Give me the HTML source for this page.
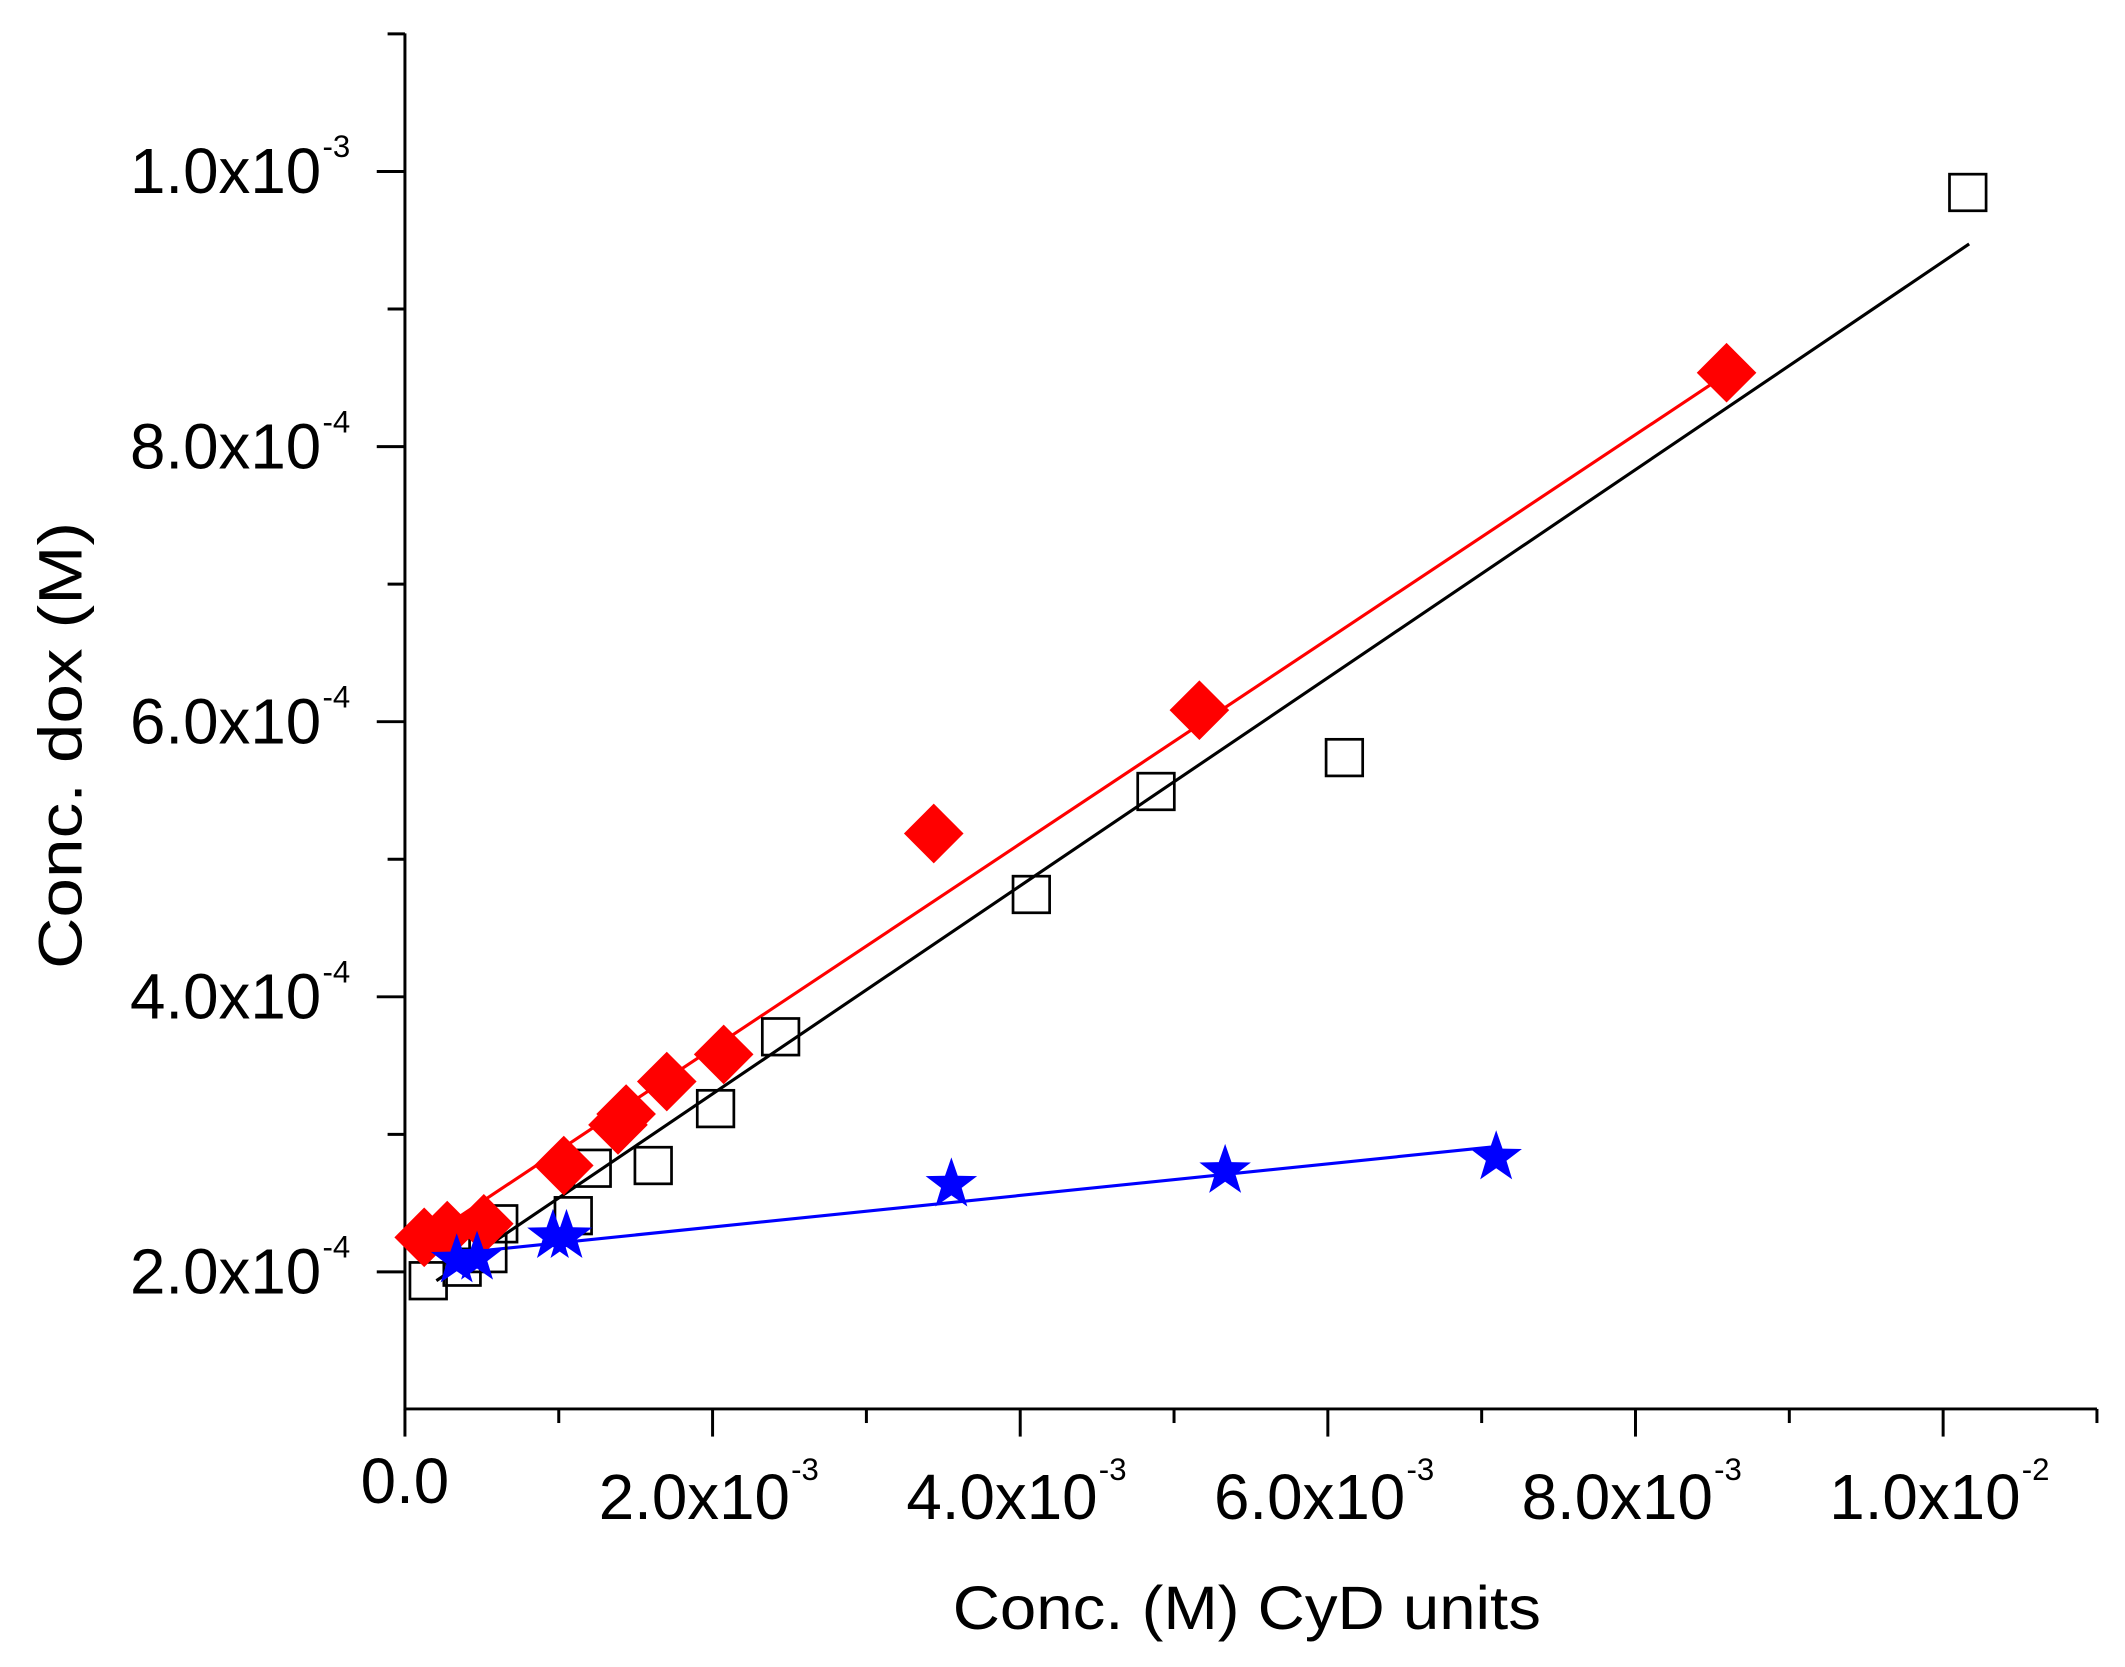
<!DOCTYPE html>
<html><head><meta charset="utf-8"><style>
html,body{margin:0;padding:0;background:#fff;}
svg{display:block;}
text{font-family:"Liberation Sans",Arial,sans-serif;fill:#000;}
</style></head><body>
<svg width="2125" height="1667" viewBox="0 0 1568 1230" xmlns="http://www.w3.org/2000/svg">
<defs>
<polygon id="dia" points="0,-22 22,0 0,22 -22,0" fill="#f00"/>
<rect id="sq" x="-13.5" y="-13.5" width="27" height="27" fill="none" stroke="#000" stroke-width="2"/>
<polygon id="st" points="0,-20 4.7,-6.5 19,-6.2 7.6,2.5 11.8,16.2 0,8 -11.8,16.2 -7.6,2.5 -19,-6.2 -4.7,-6.5" fill="#00f"/>
</defs>
<g stroke="#000" stroke-width="2.2" fill="none">
<line x1="298.8" y1="24.6" x2="298.8" y2="1040.6"/>
<line x1="297.8" y1="1039.6" x2="1547.3" y2="1039.6"/>
<line x1="278" y1="938.5" x2="298.8" y2="938.5"/>
<line x1="278" y1="735.5" x2="298.8" y2="735.5"/>
<line x1="278" y1="532.5" x2="298.8" y2="532.5"/>
<line x1="278" y1="329.5" x2="298.8" y2="329.5"/>
<line x1="278" y1="126.5" x2="298.8" y2="126.5"/>
<line x1="286" y1="837" x2="298.8" y2="837"/>
<line x1="286" y1="634" x2="298.8" y2="634"/>
<line x1="286" y1="431" x2="298.8" y2="431"/>
<line x1="286" y1="228" x2="298.8" y2="228"/>
<line x1="286" y1="25" x2="298.8" y2="25"/>
<line x1="298.8" y1="1039.6" x2="298.8" y2="1060"/>
<line x1="525.8" y1="1039.6" x2="525.8" y2="1060"/>
<line x1="752.8" y1="1039.6" x2="752.8" y2="1060"/>
<line x1="979.8" y1="1039.6" x2="979.8" y2="1060"/>
<line x1="1206.8" y1="1039.6" x2="1206.8" y2="1060"/>
<line x1="1433.8" y1="1039.6" x2="1433.8" y2="1060"/>
<line x1="412.3" y1="1039.6" x2="412.3" y2="1050"/>
<line x1="639.3" y1="1039.6" x2="639.3" y2="1050"/>
<line x1="866.3" y1="1039.6" x2="866.3" y2="1050"/>
<line x1="1093.3" y1="1039.6" x2="1093.3" y2="1050"/>
<line x1="1320.3" y1="1039.6" x2="1320.3" y2="1050"/>
<line x1="1547.3" y1="1039.6" x2="1547.3" y2="1050"/>
</g>
<g font-size="47" text-anchor="end">
<text x="237" y="954.5">2.0x10</text>
<text x="237" y="751.5">4.0x10</text>
<text x="237" y="548.5">6.0x10</text>
<text x="237" y="345.5">8.0x10</text>
<text x="237" y="142.5">1.0x10</text>
</g>
<g font-size="23">
<text x="238" y="928">-4</text>
<text x="238" y="725">-4</text>
<text x="238" y="522">-4</text>
<text x="238" y="319">-4</text>
<text x="238" y="116">-3</text>
</g>
<text x="298.8" y="1109" font-size="47" text-anchor="middle">0.0</text>
<g font-size="47">
<text x="441.8" y="1121">2.0x10</text>
<text x="668.8" y="1121">4.0x10</text>
<text x="895.8" y="1121">6.0x10</text>
<text x="1122.8" y="1121">8.0x10</text>
<text x="1349.8" y="1121">1.0x10</text>
</g>
<g font-size="23">
<text x="583.8" y="1092">-3</text>
<text x="810.8" y="1092">-3</text>
<text x="1037.8" y="1092">-3</text>
<text x="1264.8" y="1092">-3</text>
<text x="1491.8" y="1092">-2</text>
</g>
<text x="920" y="1202" font-size="45" text-anchor="middle" textLength="434" lengthAdjust="spacingAndGlyphs">Conc. (M) CyD units</text>
<text transform="translate(60,550) rotate(-90)" font-size="45" text-anchor="middle" textLength="330" lengthAdjust="spacingAndGlyphs">Conc. dox (M)</text>
<line x1="313" y1="915" x2="1274" y2="276" stroke="#f00" stroke-width="2.3"/>
<line x1="322" y1="945" x2="1453" y2="180" stroke="#000" stroke-width="2.3"/>
<line x1="325" y1="926" x2="1104" y2="846" stroke="#00f" stroke-width="2.3"/>
<g>
<use href="#sq" x="316" y="945"/><use href="#sq" x="341" y="935"/><use href="#sq" x="360" y="925"/>
<use href="#sq" x="368" y="903"/><use href="#sq" x="423" y="897"/><use href="#sq" x="437" y="862"/>
<use href="#sq" x="482" y="860"/><use href="#sq" x="528" y="818"/><use href="#sq" x="576" y="765"/>
<use href="#sq" x="761" y="660"/><use href="#sq" x="853" y="584"/><use href="#sq" x="992" y="559"/>
<use href="#sq" x="1452" y="142"/>
</g>
<g>
<use href="#dia" x="313" y="913"/><use href="#dia" x="330" y="908"/><use href="#dia" x="357" y="903"/>
<use href="#dia" x="416" y="860"/><use href="#dia" x="456" y="830"/><use href="#dia" x="462" y="822"/>
<use href="#dia" x="492" y="798"/><use href="#dia" x="534" y="778"/><use href="#dia" x="689" y="615"/>
<use href="#dia" x="885" y="524"/><use href="#dia" x="1274" y="275"/>
</g>
<g>
<use href="#st" x="337" y="930"/><use href="#st" x="352" y="928"/><use href="#st" x="408" y="912"/>
<use href="#st" x="418" y="912"/><use href="#st" x="702" y="874"/><use href="#st" x="904" y="864"/>
<use href="#st" x="1104" y="854"/>
</g>
</svg>
</body></html>
